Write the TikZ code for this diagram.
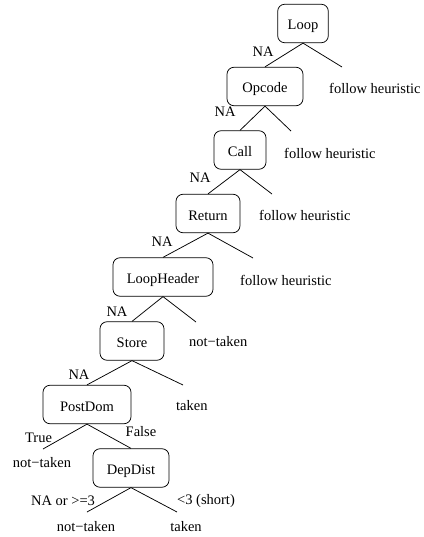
\documentclass[tikz,border=0pt]{standalone}
\usepackage{fontspec}
\setmainfont{Liberation Serif}
\begin{document}
\begin{tikzpicture}[x=1pt,y=-1pt,
  font=\fontsize{14.5}{17}\selectfont,
  box/.style={draw, rounded corners=7pt, line width=0.75pt, minimum height=38.5pt, inner sep=0pt, text height=13pt, text depth=0pt},
  edge/.style={line width=0.75pt},
  lbl/.style={inner sep=0pt},
  lblw/.style={inner sep=0pt, anchor=west}]
\useasboundingbox (0,0) rectangle (423,537);
% boxes
\node[box, minimum width=50.6pt] (loop) at (303,23.5) {Loop};
\node[box, minimum width=76pt] (opcode) at (265,86.5) {Opcode};
\node[box, minimum width=52pt] (call) at (240,150) {Call};
\node[box, minimum width=64pt] (return) at (208,213.5) {Return};
\node[box, minimum width=100pt] (lheader) at (163,277) {LoopHeader};
\node[box, minimum width=64pt] (store) at (132,341) {Store};
\node[box, minimum width=88pt] (postdom) at (87,404.5) {PostDom};
\node[box, minimum width=76pt] (depdist) at (131,468) {DepDist};
% free ends
\coordinate (r1) at (342,67);
\coordinate (r2) at (291,131);
\coordinate (r3) at (272,194);
\coordinate (r4) at (253,258);
\coordinate (r5) at (196,322);
\coordinate (r6) at (183,385);
\coordinate (l7) at (43,449);
\coordinate (l8) at (87,512);
\coordinate (r8) at (177,512);
% connectors
\draw[edge] (loop.south) -- (opcode.north);
\draw[edge] (loop.south) -- (r1);
\draw[edge] (opcode.south) -- (call.north);
\draw[edge] (opcode.south) -- (r2);
\draw[edge] (call.south) -- (return.north);
\draw[edge] (call.south) -- (r3);
\draw[edge] (return.south) -- (lheader.north);
\draw[edge] (return.south) -- (r4);
\draw[edge] (lheader.south) -- (store.north);
\draw[edge] (lheader.south) -- (r5);
\draw[edge] (store.south) -- (postdom.north);
\draw[edge] (store.south) -- (r6);
\draw[edge] (postdom.south) -- (l7);
\draw[edge] (postdom.south) -- (depdist.north);
\draw[edge] (depdist.south) -- (l8);
\draw[edge] (depdist.south) -- (r8);
% labels
\node[lbl] (na1) at (263,52) {NA};
\node[lblw] (fh1) at (329,88) {follow heuristic};
\node[lbl] (na2) at (225,112) {NA};
\node[lblw] (fh2) at (284,153) {follow heuristic};
\node[lbl] (na3) at (200,178) {NA};
\node[lblw] (fh3) at (259,215) {follow heuristic};
\node[lbl] (na4) at (162,242) {NA};
\node[lblw] (fh4) at (240,280) {follow heuristic};
\node[lbl] (na5) at (117,312) {NA};
\node[lblw] (nt5) at (189,342) {not−taken};
\node[lbl] (na6) at (79,375) {NA};
\node[lblw] (tk6) at (176,406) {taken};
\node[lbl] (true) at (38.5,438) {True};
\node[lbl] (false) at (141,432) {False};
\node[lbl] (nt7) at (42,463) {not−taken};
\node[lbl] (naor) at (63,501) {NA or >=3};
\node[lbl] (short) at (206,501) {<3 (short)};
\node[lbl] (nt8) at (86,527) {not−taken};
\node[lbl] (tk8) at (186,527) {taken};
\end{tikzpicture}
\end{document}
